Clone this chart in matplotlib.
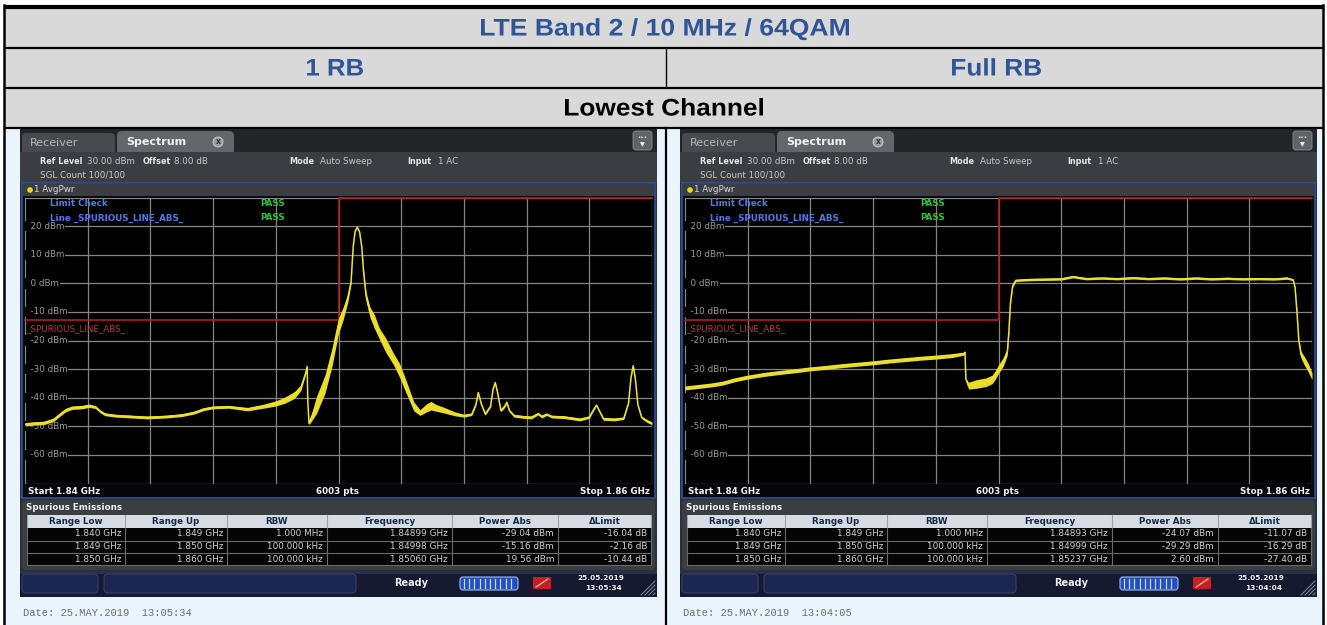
import matplotlib
matplotlib.use("Agg")
import matplotlib.pyplot as plt
from matplotlib.patches import Rectangle, FancyBboxPatch, Circle, PathPatch
from matplotlib.textpath import TextPath
from matplotlib.font_manager import FontProperties
from matplotlib.transforms import Affine2D
import numpy as np

# ---------------- data ----------------
title_main = "LTE Band 2 / 10 MHz / 64QAM"
col_titles = ["1 RB", "Full RB"]
row_title = "Lowest Channel"

freq_start_mhz, freq_stop_mhz = 1840.0, 1860.0
level_min, level_max = -70, 30
level_labels = [20, 10, 0, -10, -20, -30, -40, -50, -60]

limit_freq = [1840.0, 1850.0, 1850.0, 1860.0]
limit_dbm = [-13.0, -13.0, 30.0, 30.0]

rb1_freq = [1840.00, 1840.30, 1840.60, 1840.90, 1841.10, 1841.30, 1841.50, 1841.80, 1842.05, 1842.25,
            1842.40, 1842.55, 1842.90, 1843.40, 1843.90, 1844.50, 1845.00, 1845.40, 1845.70, 1846.00,
            1846.50, 1847.10, 1847.60, 1848.00, 1848.30, 1848.60, 1848.80, 1848.95, 1849.00, 1849.02,
            1849.06, 1849.30, 1849.57, 1849.80, 1849.99, 1850.15, 1850.30, 1850.40, 1850.47, 1850.53,
            1850.60, 1850.67, 1850.74, 1850.80, 1850.88, 1851.00, 1851.15, 1851.30, 1851.50, 1851.75,
            1851.95, 1852.15, 1852.40, 1852.60, 1852.80, 1852.95, 1853.10, 1853.35, 1853.70, 1854.00,
            1854.25, 1854.38, 1854.46, 1854.55, 1854.68, 1854.85, 1854.93, 1855.00, 1855.08, 1855.18,
            1855.30, 1855.37, 1855.45, 1855.60, 1855.90, 1856.15, 1856.37, 1856.48, 1856.64, 1856.80,
            1857.20, 1857.70, 1858.00, 1858.12, 1858.23, 1858.33, 1858.45, 1858.80, 1859.10, 1859.25,
            1859.33, 1859.40, 1859.47, 1859.55, 1859.67, 1859.85, 1860.00]
rb1_dbm = [-49.3, -49.0, -48.8, -47.8, -46.0, -44.3, -43.5, -43.3, -42.8, -43.3,
           -44.8, -45.8, -46.3, -46.6, -46.9, -46.6, -46.1, -45.2, -44.0, -43.4,
           -43.2, -44.0, -43.0, -42.0, -40.8, -39.0, -36.5, -31.5, -29.1, -41.0,
           -49.0, -42.5, -35.2, -25.5, -15.2, -10.5, -5.0, 0.5, 13.0, 18.2,
           19.6, 18.0, 13.0, 4.0, -4.5, -10.0, -13.5, -17.5, -21.5, -26.4,
           -30.5, -36.0, -43.0, -45.2, -43.6, -42.8, -43.5, -44.3, -45.6, -46.3,
           -45.8, -42.5, -38.2, -42.0, -45.7, -43.0, -37.0, -34.7, -38.5, -44.5,
           -43.0, -41.6, -44.5, -46.3, -46.7, -46.9, -45.6, -46.6, -45.8, -46.6,
           -46.8, -47.6, -46.8, -44.5, -42.6, -44.8, -47.4, -47.6, -47.2, -42.0,
           -33.0, -28.8, -33.5, -42.5, -46.9, -48.2, -49.0]
rb1_spread = [0.6, 0.6, 0.6, 0.6, 0.6, 0.6, 0.6, 0.6, 0.6, 0.5,
              0.5, 0.5, 0.5, 0.5, 0.5, 0.5, 0.5, 0.5, 0.5, 0.5,
              0.5, 0.6, 0.7, 0.9, 1.1, 1.2, 1.0, 0.4, 0.2, 0.2,
              0.5, 3.0, 3.2, 3.2, 2.8, 2.2, 1.5, 0.6, 0.2, 0.2,
              0.2, 0.2, 0.2, 0.8, 1.3, 1.8, 2.4, 1.9, 2.5, 2.0,
              2.4, 2.2, 1.6, 1.0, 1.4, 1.5, 1.2, 1.0, 0.7, 0.5,
              0.4, 0.3, 0.2, 0.3, 0.4, 0.3, 0.2, 0.2, 0.2, 0.4,
              0.4, 0.3, 0.4, 0.5, 0.5, 0.5, 0.4, 0.5, 0.4, 0.5,
              0.5, 0.5, 0.4, 0.3, 0.2, 0.3, 0.5, 0.5, 0.4, 0.2,
              0.2, 0.2, 0.2, 0.2, 0.4, 0.5, 0.5]

full_freq = [1840.00, 1840.40, 1840.80, 1841.20, 1841.60, 1842.00, 1842.50, 1843.00, 1843.50, 1844.00,
             1844.50, 1845.00, 1845.50, 1846.00, 1846.50, 1847.00, 1847.50, 1848.00, 1848.50, 1848.90,
             1848.93, 1848.96, 1849.04, 1849.30, 1849.60, 1849.80, 1849.90, 1850.00, 1850.15, 1850.28,
             1850.33, 1850.38, 1850.45, 1850.55, 1851.00, 1851.50, 1852.00, 1852.37, 1852.80, 1853.30,
             1853.80, 1854.30, 1854.80, 1855.30, 1855.80, 1856.30, 1856.80, 1857.30, 1857.80, 1858.30,
             1858.80, 1859.20, 1859.40, 1859.46, 1859.52, 1859.58, 1859.65, 1859.75, 1859.88, 1860.00]
full_dbm = [-36.6, -36.1, -35.6, -34.9, -33.7, -32.8, -31.9, -31.2, -30.6, -29.9,
            -29.4, -28.8, -28.3, -27.8, -27.2, -26.7, -26.2, -25.8, -25.3, -24.6,
            -24.1, -33.5, -35.8, -35.2, -34.6, -33.6, -32.0, -30.0, -27.5, -24.0,
            -17.0, -7.0, -1.0, 1.0, 1.3, 1.4, 1.5, 2.3, 1.6, 1.8,
            1.6, 1.9, 1.6, 1.8, 1.5, 1.8, 1.5, 1.7, 1.5, 1.6,
            1.5, 1.8, 1.2, -1.5, -10.0, -20.0, -25.0, -27.0, -29.5, -32.5]
full_spread = [0.7, 0.7, 0.7, 0.7, 0.7, 0.7, 0.7, 0.7, 0.7, 0.7,
               0.7, 0.7, 0.7, 0.7, 0.7, 0.7, 0.7, 0.7, 0.7, 0.5,
               0.2, 0.3, 1.2, 1.5, 1.5, 1.5, 1.5, 1.5, 1.5, 1.2,
               0.8, 0.4, 0.4, 0.4, 0.4, 0.4, 0.4, 0.4, 0.4, 0.4,
               0.4, 0.4, 0.4, 0.4, 0.4, 0.4, 0.4, 0.4, 0.4, 0.4,
               0.4, 0.4, 0.3, 0.3, 0.3, 0.5, 1.2, 1.5, 1.5, 1.2]

table_cols = ["Range Low", "Range Up", "RBW", "Frequency", "Power Abs", "\u0394Limit"]
range_low = ["1.840 GHz", "1.849 GHz", "1.850 GHz"]
range_up = ["1.849 GHz", "1.850 GHz", "1.860 GHz"]
rbw = ["1.000 MHz", "100.000 kHz", "100.000 kHz"]
rb1_peak_freq = ["1.84899 GHz", "1.84998 GHz", "1.85060 GHz"]
rb1_power = ["-29.04 dBm", "-15.16 dBm", "19.56 dBm"]
rb1_delta = ["-16.04 dB", "-2.16 dB", "-10.44 dB"]
full_peak_freq = ["1.84893 GHz", "1.84999 GHz", "1.85237 GHz"]
full_power = ["-24.07 dBm", "-29.29 dBm", "2.60 dBm"]
full_delta = ["-11.07 dB", "-16.29 dB", "-27.40 dB"]

rb1_stamp = ("25.05.2019", "13:05:34", "Date: 25.MAY.2019  13:05:34")
full_stamp = ("25.05.2019", "13:04:04", "Date: 25.MAY.2019  13:04:05")

# ---------------- figure ----------------
W, H = 1327, 625
fig = plt.figure(figsize=(W / 100, H / 100), dpi=100)
fig.patch.set_facecolor("white")

ax0 = fig.add_axes([0, 0, 1, 1])
ax0.set_xlim(0, W)
ax0.set_ylim(H, 0)
ax0.axis("off")

UI = "DejaVu Sans"


def rect(ax, x, y, w, h, fc, ec="none", lw=0, z=1):
    ax.add_patch(Rectangle((x, y), w, h, facecolor=fc, edgecolor=ec, linewidth=lw, zorder=z))


def rrect(ax, x, y, w, h, fc, ec="none", lw=0, r=3, z=1):
    ax.add_patch(FancyBboxPatch((x, y), w, h, boxstyle=f"round,pad=0,rounding_size={r}",
                                facecolor=fc, edgecolor=ec, linewidth=lw, zorder=z))


def txt(ax, x, y, s, size=6.5, color="white", weight="normal", ha="left", va="center",
        family=UI, z=5):
    ax.text(x, y, s, fontsize=size, color=color, fontweight=weight, ha=ha, va=va,
            family=family, zorder=z)


HEAD_FONT = FontProperties(family="Liberation Sans", weight="bold")
_cap_ext = TextPath((0, 0), "H", size=100, prop=HEAD_FONT).get_extents()


def wide_text(ax, s, xc, width, baseline, cap, color):
    """Bold heading text fitted to a given width and cap height (pixel units)."""
    tp = TextPath((0, 0), s, size=100, prop=HEAD_FONT)
    bb = tp.get_extents()
    sy = cap / _cap_ext.height
    sx = width / bb.width
    tr = (Affine2D().translate(-bb.x0 - bb.width / 2, 0)
          .scale(sx, -sy).translate(xc, baseline))
    ax.add_patch(PathPatch(tr.transform_path(tp), facecolor=color, edgecolor="none",
                           lw=0, zorder=3))


# table backgrounds
rect(ax0, 0, 0, W, H, "white", z=0)
rect(ax0, 4, 128, 662, 497, "#eaf4fc", z=0.5)
rect(ax0, 666, 128, 657, 497, "#eaf4fc", z=0.5)
for (y0, y1) in [(7, 47), (48, 87), (88, 127)]:
    rect(ax0, 4, y0, 1319, y1 - y0, "#d9d9d9", z=0.6)

# table borders
ax0.plot([4, 1323], [6.5, 6.5], color="black", lw=3, zorder=2, solid_capstyle="butt")
for yy in [47.5, 87.5, 127.5]:
    ax0.plot([4, 1323], [yy, yy], color="black", lw=1.6, zorder=2, solid_capstyle="butt")
ax0.plot([4, 4], [5, 625], color="black", lw=1.8, zorder=2)
ax0.plot([1323, 1323], [5, 625], color="black", lw=1.8, zorder=2)
ax0.plot([666, 666], [47.5, 87.5], color="black", lw=1.0, zorder=2)
ax0.plot([666, 666], [127.5, 625], color="black", lw=1.6, zorder=2)

BLUE_HEAD = "#2f5597"
CAP = 16.5
wide_text(ax0, title_main, 665, 368, 35.5, CAP, BLUE_HEAD)
wide_text(ax0, col_titles[0], 335, 56, 75.5, CAP, BLUE_HEAD)
wide_text(ax0, col_titles[1], 996.5, 89, 75.5, CAP, BLUE_HEAD)
wide_text(ax0, row_title, 664, 198, 115.5, CAP, "black")

# overlay axes for texts drawn on top of the plot areas
ax_top = fig.add_axes([0, 0, 1, 1], facecolor="none")
ax_top.set_xlim(0, W)
ax_top.set_ylim(H, 0)
ax_top.axis("off")
ax_top.set_zorder(10)


def screen(dx, f, db, sp, peak_f, power, delta, stamp):
    X = lambda x: x + dx
    # body
    rect(ax0, X(20), 129, 637, 468, "#2d3033", z=1)
    # tab bar
    rect(ax0, X(20), 129, 637, 23, "#232629", z=1.1)
    rrect(ax0, X(22), 133, 93, 22, "#474b4f", r=4, z=1.2)
    rrect(ax0, X(117), 131, 117, 24, "#62676b", r=5, z=1.3)
    txt(ax0, X(30), 143, "Receiver", size=8, color="#b4b8bc", z=3)
    txt(ax0, X(126), 142, "Spectrum", size=8, color="#f2f2f2", weight="bold", z=3)
    ax0.add_patch(Circle((X(218), 142), 5, facecolor="#9a9ea2", edgecolor="#d0d0d0", lw=0.6, zorder=3))
    txt(ax0, X(218), 142, "x", size=5.5, color="#303030", weight="bold", ha="center", z=4)
    rrect(ax0, X(633), 131, 19, 19, "#5f6367", ec="#8a8e92", lw=0.6, r=3, z=3)
    txt(ax0, X(642.5), 137, "\u2022\u2022\u2022", size=4, color="white", ha="center", z=4)
    txt(ax0, X(642.5), 144.5, "\u25bc", size=4.5, color="white", ha="center", z=4)
    # info area
    rect(ax0, X(20), 152, 637, 31, "#3a3e42", z=1.4)
    y1 = 161
    BS = 5.9
    txt(ax0, X(40), y1, "Ref Level", size=BS, color="#e6e6e6", weight="bold", z=3)
    txt(ax0, X(87), y1, "30.00 dBm", size=6.3, color="#c8c8c8", z=3)
    txt(ax0, X(143), y1, "Offset", size=BS, color="#e6e6e6", weight="bold", z=3)
    txt(ax0, X(174), y1, "8.00 dB", size=6.3, color="#c8c8c8", z=3)
    txt(ax0, X(289), y1, "Mode", size=BS, color="#e6e6e6", weight="bold", z=3)
    txt(ax0, X(320), y1, "Auto Sweep", size=6.3, color="#c8c8c8", z=3)
    txt(ax0, X(407), y1, "Input", size=BS, color="#e6e6e6", weight="bold", z=3)
    txt(ax0, X(438), y1, "1 AC", size=6.3, color="#c8c8c8", z=3)
    txt(ax0, X(40), 175, "SGL Count 100/100", size=6.3, color="#c8c8c8", z=3)
    # diagram frame
    rect(ax0, X(22), 183, 633, 315, "#0a0a10", ec="#2f4f9f", lw=1.2, z=1.5)
    rect(ax0, X(23), 184, 631, 12, "#3a3e42", z=1.6)
    ax0.add_patch(Circle((X(30), 190), 2.8, facecolor="#e8d820", edgecolor="none", zorder=3))
    txt(ax0, X(34), 190, "1 AvgPwr", size=6.3, color="#d8d8d8", z=3)
    # bottom bar of diagram
    rect(ax0, X(23), 484, 631, 13, "#06060c", z=1.7)
    txt(ax0, X(28), 491, "Start 1.84 GHz", size=6.3, color="#f0f0f0", weight="bold", z=3)
    txt(ax0, X(338), 491, "6003 pts", size=6.3, color="#f0f0f0", weight="bold", ha="center", z=3)
    txt(ax0, X(650), 491, "Stop 1.86 GHz", size=6.3, color="#f0f0f0", weight="bold", ha="right", z=3)

    # spurious emissions panel
    rrect(ax0, X(22), 500, 633, 70, "#3a3e42", r=4, z=1.5)
    txt(ax0, X(26), 507, "Spurious Emissions", size=6.3, color="#f0f0f0", weight="bold", z=3)
    cx = [27, 125, 227, 327, 452, 558, 651]
    rect(ax0, X(cx[0]), 515, cx[-1] - cx[0], 13, "#d6dce3", z=2)
    rect(ax0, X(cx[0]), 528, cx[-1] - cx[0], 37, "#050505", z=2)
    for i, name in enumerate(table_cols):
        txt(ax0, X((cx[i] + cx[i + 1]) / 2), 521.5, name, size=6.3, color="#182848", weight="bold",
            ha="center", z=3)
    for xx in cx:
        ax0.plot([X(xx), X(xx)], [515, 528], color="#9aa2ac", lw=0.8, zorder=2.5)
        ax0.plot([X(xx), X(xx)], [528, 565], color="#6a6a6a", lw=0.8, zorder=2.5)
    for yy in [540.5, 553]:
        ax0.plot([X(cx[0]), X(cx[-1])], [yy, yy], color="#6a6a6a", lw=0.8, zorder=2.5)
    ax0.plot([X(cx[0]), X(cx[-1])], [565, 565], color="#6a6a6a", lw=0.8, zorder=2.5)
    cols = [range_low, range_up, rbw, peak_f, power, delta]
    for r, yy in enumerate([534, 546.7, 559]):
        for c in range(6):
            txt(ax0, X(cx[c + 1] - 4), yy, cols[c][r], size=6.4, color="#cfcfcf", ha="right", z=3)

    # status bar
    rect(ax0, X(20), 571, 637, 26, "#161a30", z=1.5)
    rect(ax0, X(20), 571, 637, 3, "#2a2f4a", z=1.6)
    rrect(ax0, X(22), 574, 76, 19, "#1c2652", ec="#34406e", lw=0.8, r=4, z=2)
    rrect(ax0, X(104), 574, 252, 19, "#1c2652", ec="#34406e", lw=0.8, r=4, z=2)
    txt(ax0, X(411), 583.5, "Ready", size=7, color="#f0f0f0", weight="bold", ha="center", z=3)
    rrect(ax0, X(460), 577, 58, 13, "#1f4fc0", ec="#9fb8f0", lw=0.8, r=3, z=2)
    for k in range(10):
        xk = X(464 + k * 5.2)
        ax0.plot([xk, xk], [579, 588], color="#c8d8ff", lw=0.9, zorder=3)
    rect(ax0, X(533), 577, 18, 12, "#c42020", z=2)
    ax0.plot([X(536), X(548)], [587, 579], color="#ffd0d0", lw=0.8, zorder=3)
    txt(ax0, X(601), 578.5, stamp[0], size=5.3, color="#f0f0f0", weight="bold", ha="center", z=3)
    txt(ax0, X(604), 587.5, stamp[1], size=5.3, color="#f0f0f0", weight="bold", ha="center", z=3)
    for k in range(4):
        ax0.plot([X(641 + 4 * k), X(655)], [595, 595 - 14 + 4 * k], color="#8088a0", lw=0.7, zorder=3)
    # date line below the screenshot
    txt(ax0, X(23), 613, stamp[2], size=7.5, color="#6e6e6e", family="Liberation Mono", z=3)

    # ---- data axes (spectrum) ----
    left = (X(25)) / W
    bottom = (H - 483.5) / H
    ax = fig.add_axes([left, bottom, 627 / W, 286 / H])
    ax.set_facecolor("black")
    ax.set_xlim(freq_start_mhz, freq_stop_mhz)
    ax.set_ylim(level_min, level_max)
    ax.set_xticks(np.linspace(freq_start_mhz, freq_stop_mhz, 11))
    ax.set_yticks(np.arange(level_min, level_max + 1, 10))
    ax.grid(True, color="#858585", lw=0.9)
    ax.set_axisbelow(True)
    ax.tick_params(length=0, labelbottom=False, labelleft=False)
    for s in ax.spines.values():
        s.set_visible(False)
    for v in level_labels:
        ax.text(freq_start_mhz, v, f"  {v} dBm", fontsize=6.3, color="#9c9c9c",
                ha="left", va="center", family=UI, zorder=2,
                bbox=dict(facecolor="black", edgecolor="none", pad=0.5))
    ax.plot(limit_freq, limit_dbm, color="#b41e1e", lw=1.2, zorder=3, clip_on=False)
    ax.text(freq_start_mhz + 0.05, -14.2, "_SPURIOUS_LINE_ABS_", fontsize=6.3,
            color="#c83232", ha="left", va="top", family=UI, zorder=3)
    fa = np.array(f)
    da = np.array(db)
    sa = np.array(sp)
    ax.fill_between(fa, da - sa, da + sa, color="#e8dc28", lw=0, zorder=4)
    ax.plot(fa, da, color="#efe22c", lw=1.1, zorder=5)

    # overlay texts
    txt(ax_top, X(50), 204, "Limit Check", size=6.3, color="#4d7be6", weight="bold", z=6)
    txt(ax_top, X(260), 204, "PASS", size=6.3, color="#2fc23a", weight="bold", z=6)
    txt(ax_top, X(50), 218, "Line _SPURIOUS_LINE_ABS_", size=6.3, color="#4d7be6", weight="bold", z=6)
    txt(ax_top, X(260), 218, "PASS", size=6.3, color="#2fc23a", weight="bold", z=6)


screen(0, rb1_freq, rb1_dbm, rb1_spread, rb1_peak_freq, rb1_power, rb1_delta, rb1_stamp)
screen(660, full_freq, full_dbm, full_spread, full_peak_freq, full_power, full_delta, full_stamp)

fig.savefig("out.png", dpi=100, facecolor="white")
